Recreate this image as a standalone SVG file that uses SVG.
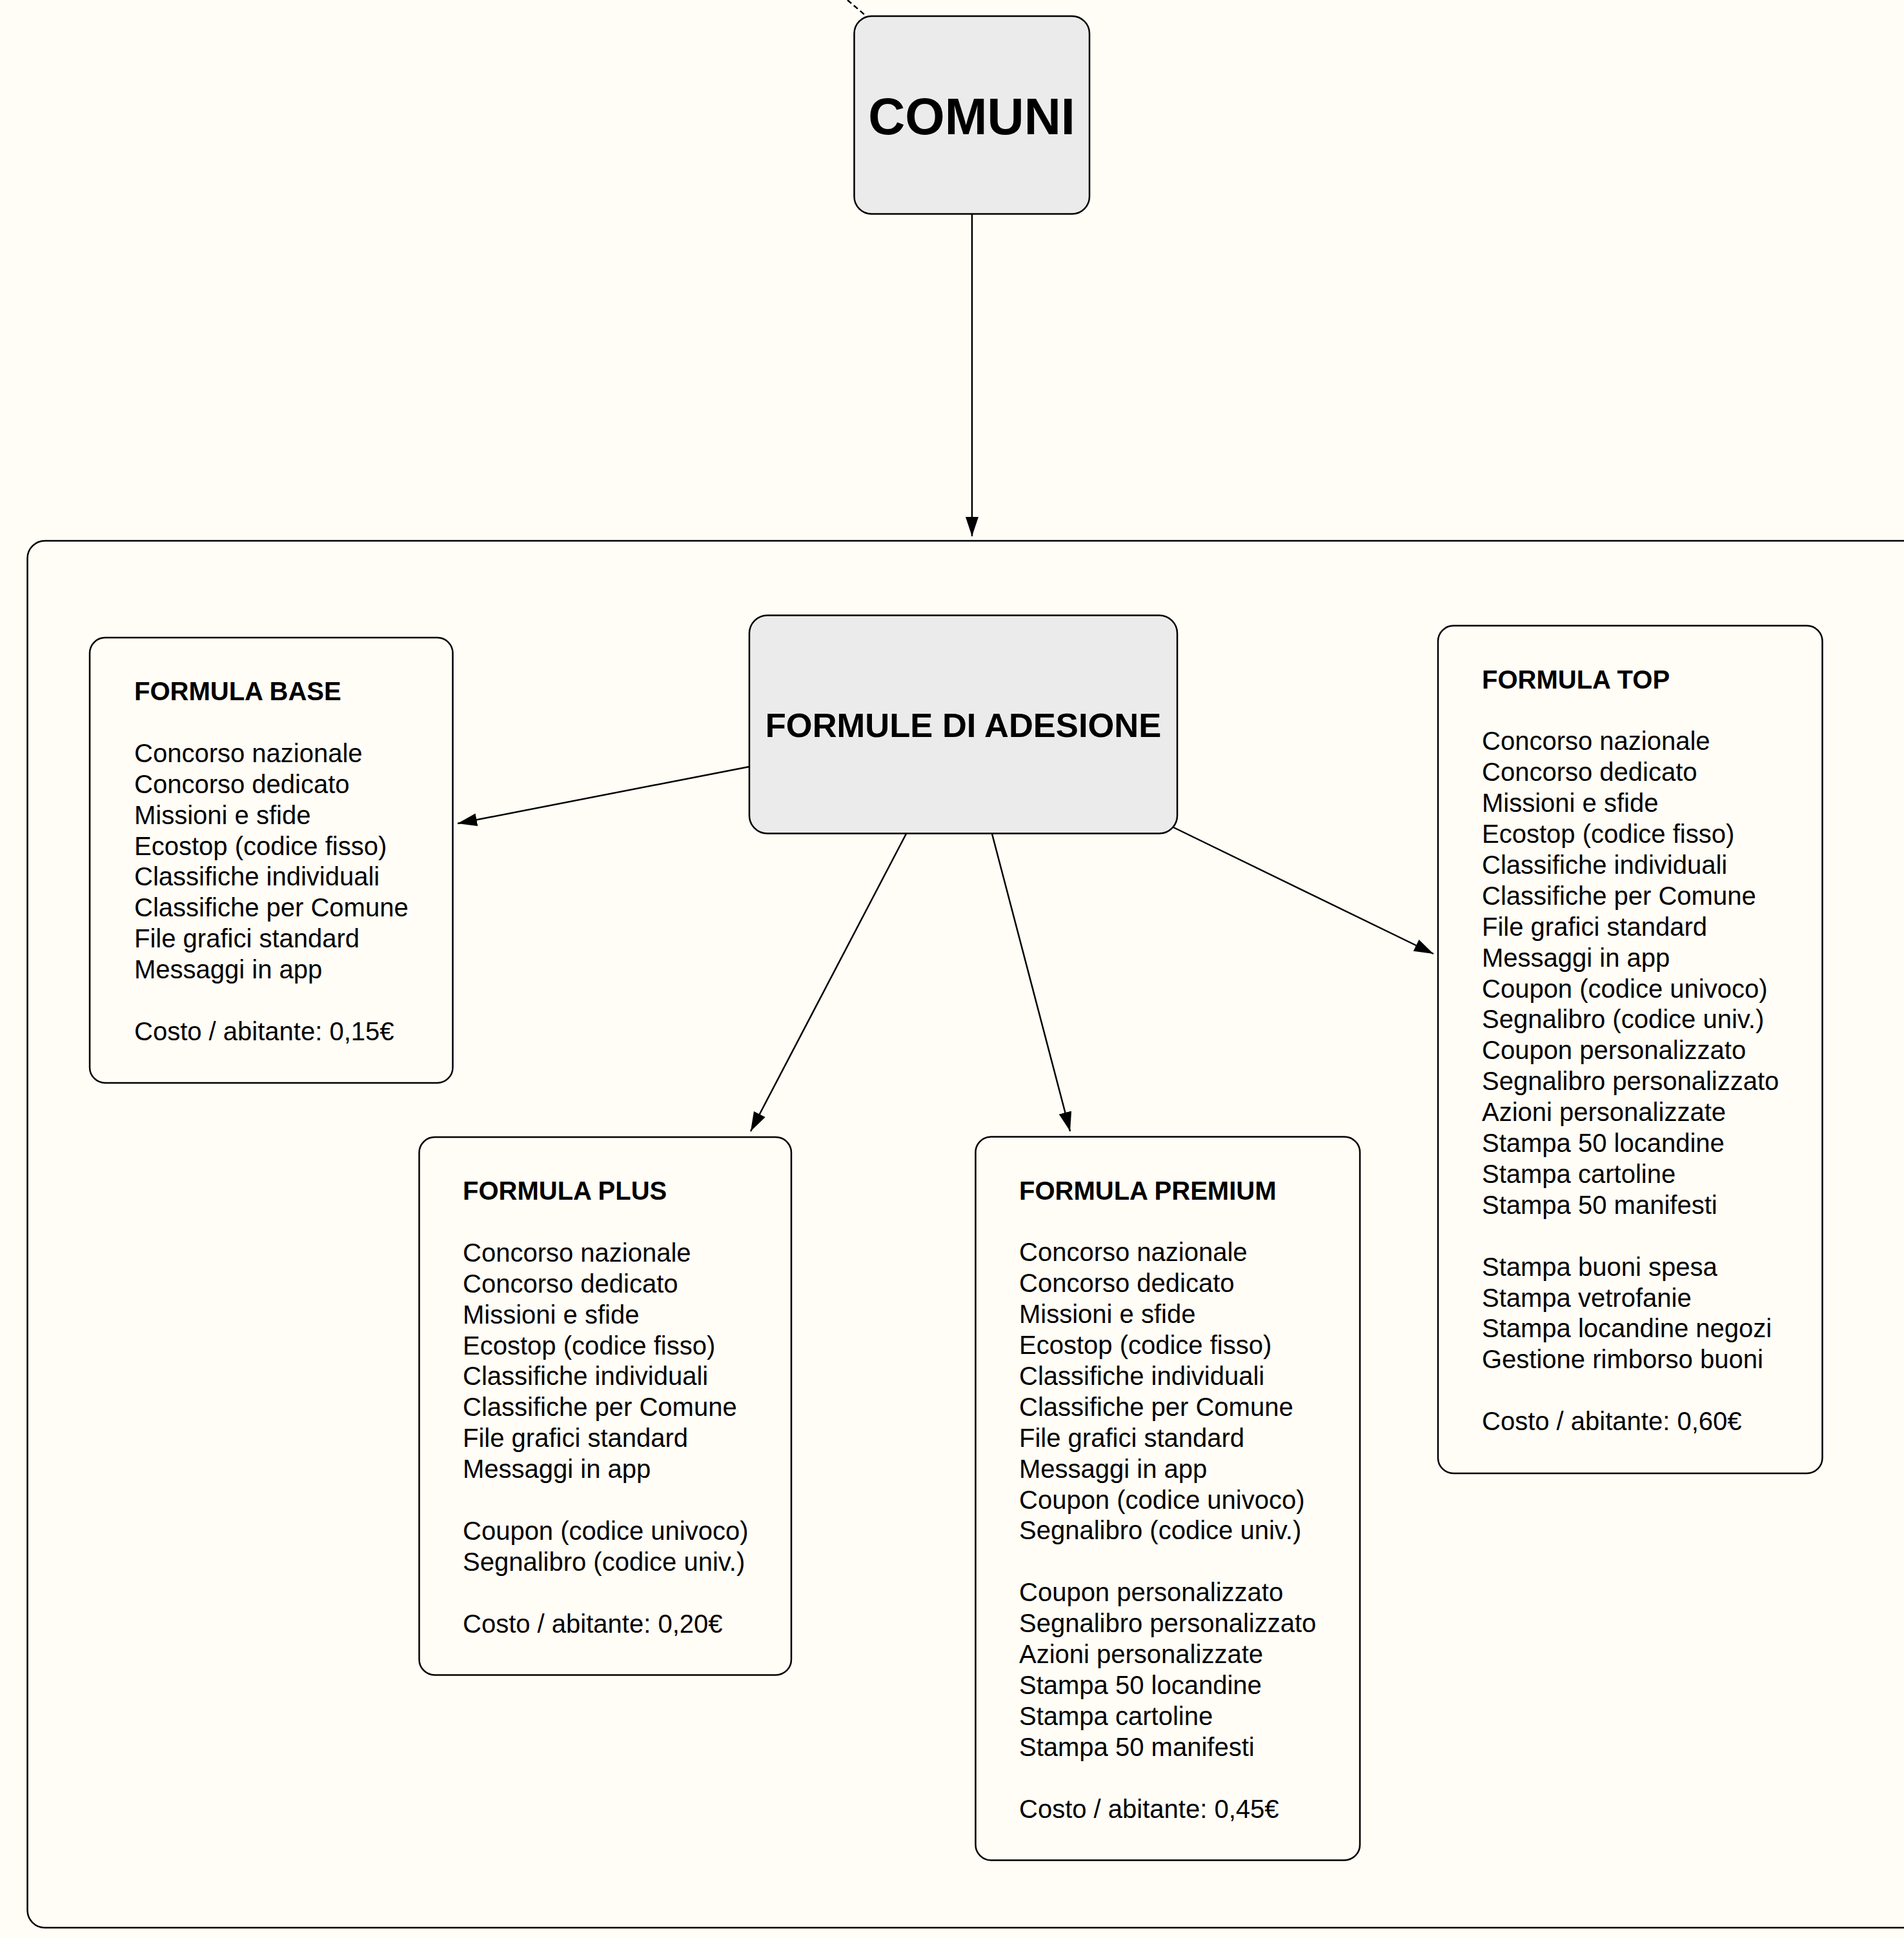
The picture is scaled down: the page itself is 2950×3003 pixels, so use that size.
<svg xmlns="http://www.w3.org/2000/svg" width="2950" height="3003" viewBox="0 0 2950 3003">
<style>
.bg{fill:#FFFDF6}
.frame{fill:none;stroke:#000;stroke-width:2.5}
.hub{fill:#EBEBEB;stroke:#000;stroke-width:2.5}
.card{fill:#FFFDF6;stroke:#000;stroke-width:2.5}
.edge{fill:none;stroke:#000;stroke-width:2.5}
.dash{fill:none;stroke:#000;stroke-width:2.5;stroke-dasharray:8 5}
.big{font-family:"Liberation Sans",Arial,Helvetica,sans-serif;font-weight:bold;fill:#000;text-anchor:middle}
.t{font-family:"Liberation Sans",Arial,Helvetica,sans-serif;font-size:40px;fill:#000}
.h{font-weight:bold}
</style>
<defs>
<marker id="arr" markerUnits="userSpaceOnUse" markerWidth="32" markerHeight="22" refX="30" refY="10" orient="auto">
<path d="M0,0 L30,10 L0,20 z" fill="#000"/>
</marker>
</defs>
<rect class="bg" x="0" y="0" width="2950" height="3003"/>
<g id="container">
<rect class="frame" x="42.5" y="838" width="2932" height="2149" rx="27" ry="27"/>
</g>
<g id="connectors">
<line class="dash" x1="1313" y1="0" x2="1341" y2="24"/>
<line class="edge" x1="1506" y1="332" x2="1506" y2="831" marker-end="url(#arr)"/>
<line class="edge" x1="1161" y1="1188" x2="709" y2="1276" marker-end="url(#arr)"/>
<line class="edge" x1="1404" y1="1292" x2="1163" y2="1753" marker-end="url(#arr)"/>
<line class="edge" x1="1537" y1="1292" x2="1658" y2="1753" marker-end="url(#arr)"/>
<line class="edge" x1="1818" y1="1282" x2="2221" y2="1478" marker-end="url(#arr)"/>
</g>
<g id="comuni">
<rect class="hub" x="1323.5" y="25" width="364.5" height="306.5" rx="27" ry="27"/>
<text class="big" x="1505.5" y="208" font-size="79">COMUNI</text>
</g>
<g id="formule">
<rect class="hub" x="1161" y="953.5" width="663" height="338" rx="28" ry="28"/>
<text class="big" x="1492.5" y="1141.5" font-size="52.5">FORMULE DI ADESIONE</text>
</g>
<g id="base">
<rect class="card" x="139" y="988" width="562.5" height="690" rx="24" ry="24"/>
<text class="t" x="208" y="1085"><tspan class="h">FORMULA BASE</tspan><tspan x="208" dy="95.8">Concorso nazionale</tspan><tspan x="208" dy="47.9">Concorso dedicato</tspan><tspan x="208" dy="47.9">Missioni e sfide</tspan><tspan x="208" dy="47.9">Ecostop (codice fisso)</tspan><tspan x="208" dy="47.9">Classifiche individuali</tspan><tspan x="208" dy="47.9">Classifiche per Comune</tspan><tspan x="208" dy="47.9">File grafici standard</tspan><tspan x="208" dy="47.9">Messaggi in app</tspan><tspan x="208" dy="95.8">Costo / abitante: 0,15€</tspan></text>
</g>
<g id="plus">
<rect class="card" x="649.5" y="1762" width="576.5" height="833.5" rx="24" ry="24"/>
<text class="t" x="717" y="1859"><tspan class="h">FORMULA PLUS</tspan><tspan x="717" dy="95.8">Concorso nazionale</tspan><tspan x="717" dy="47.9">Concorso dedicato</tspan><tspan x="717" dy="47.9">Missioni e sfide</tspan><tspan x="717" dy="47.9">Ecostop (codice fisso)</tspan><tspan x="717" dy="47.9">Classifiche individuali</tspan><tspan x="717" dy="47.9">Classifiche per Comune</tspan><tspan x="717" dy="47.9">File grafici standard</tspan><tspan x="717" dy="47.9">Messaggi in app</tspan><tspan x="717" dy="95.8">Coupon (codice univoco)</tspan><tspan x="717" dy="47.9">Segnalibro (codice univ.)</tspan><tspan x="717" dy="95.8">Costo / abitante: 0,20€</tspan></text>
</g>
<g id="premium">
<rect class="card" x="1511.5" y="1761.5" width="595.5" height="1121" rx="24" ry="24"/>
<text class="t" x="1579" y="1858.5"><tspan class="h">FORMULA PREMIUM</tspan><tspan x="1579" dy="95.8">Concorso nazionale</tspan><tspan x="1579" dy="47.9">Concorso dedicato</tspan><tspan x="1579" dy="47.9">Missioni e sfide</tspan><tspan x="1579" dy="47.9">Ecostop (codice fisso)</tspan><tspan x="1579" dy="47.9">Classifiche individuali</tspan><tspan x="1579" dy="47.9">Classifiche per Comune</tspan><tspan x="1579" dy="47.9">File grafici standard</tspan><tspan x="1579" dy="47.9">Messaggi in app</tspan><tspan x="1579" dy="47.9">Coupon (codice univoco)</tspan><tspan x="1579" dy="47.9">Segnalibro (codice univ.)</tspan><tspan x="1579" dy="95.8">Coupon personalizzato</tspan><tspan x="1579" dy="47.9">Segnalibro personalizzato</tspan><tspan x="1579" dy="47.9">Azioni personalizzate</tspan><tspan x="1579" dy="47.9">Stampa 50 locandine</tspan><tspan x="1579" dy="47.9">Stampa cartoline</tspan><tspan x="1579" dy="47.9">Stampa 50 manifesti</tspan><tspan x="1579" dy="95.8">Costo / abitante: 0,45€</tspan></text>
</g>
<g id="top">
<rect class="card" x="2228" y="969.5" width="595.5" height="1313.5" rx="24" ry="24"/>
<text class="t" x="2296" y="1066.5"><tspan class="h">FORMULA TOP</tspan><tspan x="2296" dy="95.8">Concorso nazionale</tspan><tspan x="2296" dy="47.9">Concorso dedicato</tspan><tspan x="2296" dy="47.9">Missioni e sfide</tspan><tspan x="2296" dy="47.9">Ecostop (codice fisso)</tspan><tspan x="2296" dy="47.9">Classifiche individuali</tspan><tspan x="2296" dy="47.9">Classifiche per Comune</tspan><tspan x="2296" dy="47.9">File grafici standard</tspan><tspan x="2296" dy="47.9">Messaggi in app</tspan><tspan x="2296" dy="47.9">Coupon (codice univoco)</tspan><tspan x="2296" dy="47.9">Segnalibro (codice univ.)</tspan><tspan x="2296" dy="47.9">Coupon personalizzato</tspan><tspan x="2296" dy="47.9">Segnalibro personalizzato</tspan><tspan x="2296" dy="47.9">Azioni personalizzate</tspan><tspan x="2296" dy="47.9">Stampa 50 locandine</tspan><tspan x="2296" dy="47.9">Stampa cartoline</tspan><tspan x="2296" dy="47.9">Stampa 50 manifesti</tspan><tspan x="2296" dy="95.8">Stampa buoni spesa</tspan><tspan x="2296" dy="47.9">Stampa vetrofanie</tspan><tspan x="2296" dy="47.9">Stampa locandine negozi</tspan><tspan x="2296" dy="47.9">Gestione rimborso buoni</tspan><tspan x="2296" dy="95.8">Costo / abitante: 0,60€</tspan></text>
</g>
</svg>
